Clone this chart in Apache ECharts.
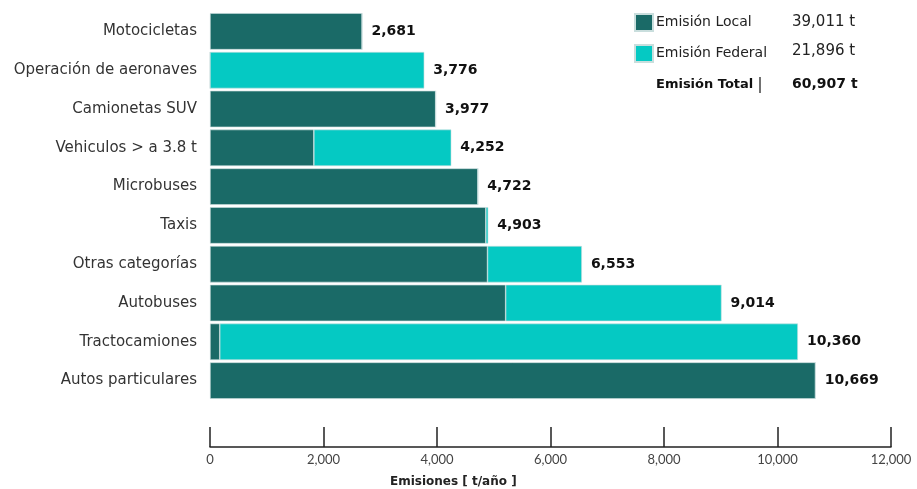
<!DOCTYPE html>
<html>
<head>
<meta charset="utf-8">
<script src="https://cdn.jsdelivr.net/npm/echarts@6/dist/echarts.min.js"></script>
<style>
html,body{margin:0;padding:0;background:#fff;}
#c{width:917px;height:489px;}
</style>
</head>
<body>
<div id="c"></div>
<script>
var categories = ["Motocicletas","Operación de aeronaves","Camionetas SUV","Vehiculos > a 3.8 t","Microbuses","Taxis","Otras categorías","Autobuses","Tractocamiones","Autos particulares"];
var localValues = [2681, 0, 3977, 1830, 4722, 4860, 4890, 5210, 172, 10669];
var federalValues = [0, 3776, 0, 2422, 0, 43, 1663, 3804, 10188, 0];
var xTicks = [0, 2000, 4000, 6000, 8000, 10000, 12000];
var legendNames = ["Emisión Local", "Emisión Federal"];
var legendTotals = ["39,011 t", "21,896 t"];
var totalLabel = "Emisión Total";
var totalValue = "60,907 t";
var axisTitle = "Emisiones [ t/año ]";

var DARK = "#1a6a67", CYAN = "#05c9c3";
var FONT = "'DejaVu Sans', sans-serif";
var FONT2 = "Lato, sans-serif";
function fmt(n){ return n.toLocaleString('en-US'); }

var chart = echarts.init(document.getElementById('c'), null, {renderer:'canvas'});
chart.setOption({
  animation:false,
  textStyle:{fontFamily:FONT},
  grid:{left:210, right:26, top:12, bottom:89, containLabel:false},
  legend:{
    orient:'vertical', left:629, top:8, itemWidth:18, itemHeight:17, itemGap:12,
    icon:'rect', data:legendNames,
    textStyle:{fontSize:14, color:'#222', fontFamily:FONT, padding:[2,0,0,-2]},
    selectedMode:false
  },
  xAxis:{
    type:'value', min:0, max:12000, interval:2000, offset:47,
    axisLine:{show:true, lineStyle:{color:'#222', width:1.5}},
    axisTick:{show:true, inside:true, length:20, lineStyle:{color:'#222', width:1.5}},
    splitLine:{show:false},
    axisLabel:{fontSize:13, color:'#444', margin:6, fontFamily:FONT2, formatter:function(v){return fmt(v);}}
  },
  yAxis:{
    type:'category', data:categories, inverse:true,
    axisLine:{show:false}, axisTick:{show:false},
    axisLabel:{fontSize:15, color:'#333', margin:13, fontFamily:FONT}
  },
  series:[
    {name:legendNames[0], type:'bar', stack:'t', data:localValues, barCategoryGap:'6%',
     itemStyle:{color:DARK, borderColor:'#c9dedd', borderWidth:0.6}},
    {name:legendNames[1], type:'bar', stack:'t', data:federalValues, barCategoryGap:'6%',
     itemStyle:{color:CYAN, borderColor:'#c9dedd', borderWidth:0.6},
     label:{show:true, position:'right', distance:9, fontSize:14, fontWeight:'bold', color:'#111', fontFamily:FONT,
       formatter:function(p){ return fmt(localValues[p.dataIndex] + federalValues[p.dataIndex]); }}}
  ],
  graphic:[
    {type:'text', left:792, top:15, style:{text:legendTotals[0], fontSize:15, fill:'#222', fontFamily:FONT}},
    {type:'text', left:792, top:44, style:{text:legendTotals[1], fontSize:15, fill:'#222', fontFamily:FONT}},
    {type:'text', left:656, top:78, style:{text:totalLabel, fontSize:13, fontWeight:'bold', fill:'#111', fontFamily:FONT}},
    {type:'line', shape:{x1:760, y1:77, x2:760, y2:93}, style:{stroke:'#111', lineWidth:1.2}},
    {type:'text', left:792, top:77, style:{text:totalValue, fontSize:14, fontWeight:'bold', fill:'#111', fontFamily:FONT}},
    {type:'text', left:390, top:476, style:{text:axisTitle, fontSize:12, fontWeight:'bold', fill:'#222', fontFamily:FONT}}
  ]
});
</script>
</body>
</html>
